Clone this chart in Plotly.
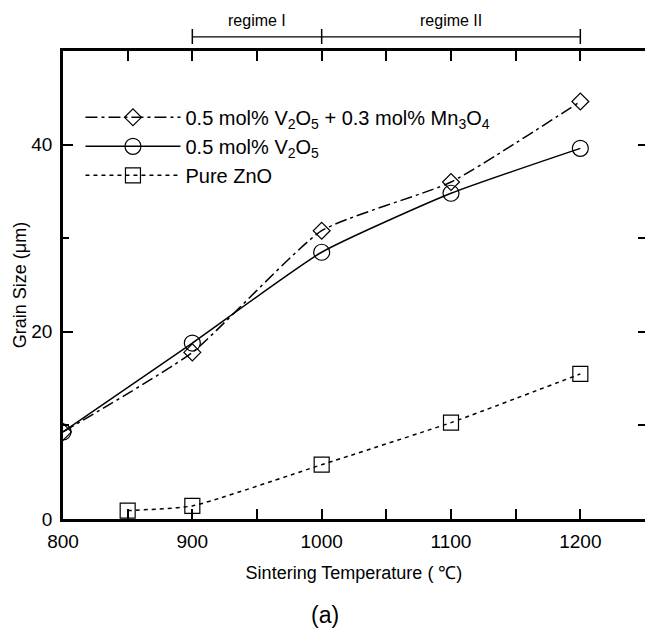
import plotly.graph_objects as go

temp_mn = [800, 900, 1000, 1100, 1200]
size_mn = [9.3, 17.8, 30.8, 36.0, 44.6]
temp_v = [800, 900, 1000, 1100, 1200]
size_v = [9.3, 18.8, 28.5, 34.8, 39.6]
temp_zno = [850, 900, 1000, 1100, 1200]
size_zno = [0.9, 1.4, 5.8, 10.3, 15.5]

name_mn = "0.5 mol% V<sub>2</sub>O<sub>5</sub> + 0.3 mol% Mn<sub>3</sub>O<sub>4</sub>"
name_v = "0.5 mol% V<sub>2</sub>O<sub>5</sub>"
name_zno = "Pure ZnO"

regime_bounds = [900, 1000, 1200]
regime_labels = ["regime I", "regime II"]
regime_label_x = [950, 1100]

FONT = "Liberation Sans, Arial, sans-serif"

fig = go.Figure()
fig.add_trace(go.Scatter(x=temp_mn, y=size_mn, name=name_mn, mode="lines+markers",
                         line=dict(color="black", width=1.5, dash="12px,4px,3px,4px", shape="spline", smoothing=0.5),
                         marker=dict(symbol="diamond-open", size=13, color="black", line=dict(width=1.2))))
fig.add_trace(go.Scatter(x=temp_v, y=size_v, name=name_v, mode="lines+markers",
                         line=dict(color="black", width=1.5, shape="spline", smoothing=0.5),
                         marker=dict(symbol="circle-open", size=16, color="black", line=dict(width=1.2))))
fig.add_trace(go.Scatter(x=temp_zno, y=size_zno, name=name_zno, mode="lines+markers",
                         line=dict(color="black", width=1.5, dash="4px,4px", shape="spline", smoothing=0.5),
                         marker=dict(symbol="square-open", size=15, color="black", line=dict(width=1.2))))

# right-side ticks without a spine
fig.add_trace(go.Scatter(x=[None], y=[None], yaxis="y2", showlegend=False, hoverinfo="skip"))

# regime brackets
fig.add_shape(type="line", xref="x", yref="paper", x0=regime_bounds[0], x1=regime_bounds[-1],
              y0=1.03, y1=1.03, line=dict(color="black", width=1.2))
for b in regime_bounds:
    fig.add_shape(type="line", xref="x", yref="paper", x0=b, x1=b, y0=1.015, y1=1.047,
                  line=dict(color="black", width=1.5))
for lab, lx in zip(regime_labels, regime_label_x):
    fig.add_annotation(x=lx, y=1.066, xref="x", yref="paper", text=lab, showarrow=False,
                       font=dict(size=16, color="black", family=FONT), yanchor="middle")

fig.add_annotation(x=0.45, y=-0.205, xref="paper", yref="paper", text="(a)", showarrow=False,
                   font=dict(size=23, color="black", family=FONT), xanchor="center", yanchor="middle")

fig.update_layout(
    width=645, height=633,
    margin=dict(l=63, r=0, t=51, b=114),
    paper_bgcolor="white", plot_bgcolor="white",
    font=dict(family=FONT, color="black", size=18),
    showlegend=True,
    legend=dict(x=0.03, y=0.9, xanchor="left", yanchor="top", bgcolor="rgba(0,0,0,0)",
                font=dict(size=20, family=FONT), itemwidth=95, tracegroupgap=0),
    xaxis=dict(range=[800, 1250], tickvals=[800, 900, 1000, 1100, 1200],
               ticks="inside", ticklen=10, tickwidth=1.5, tickcolor="black",
               minor=dict(tickvals=[850, 950, 1050, 1150], ticks="inside", ticklen=6, tickwidth=1.5, tickcolor="black"),
               showline=True, linecolor="black", linewidth=2.5, mirror="allticks",
               showgrid=False, zeroline=False,
               tickfont=dict(size=19), ticklabelstandoff=3,
               title=dict(text="Sintering Temperature ( ℃)", font=dict(size=18), standoff=16)),
    yaxis=dict(range=[0, 50], tickvals=[0, 20, 40],
               ticks="inside", ticklen=10, tickwidth=1.5, tickcolor="black",
               minor=dict(tickvals=[10, 30], ticks="inside", ticklen=6, tickwidth=1.5, tickcolor="black"),
               showline=True, linecolor="black", linewidth=2.5, mirror=False,
               showgrid=False, zeroline=False,
               tickfont=dict(size=19), ticklabelstandoff=4,
               title=dict(text="Grain Size (μm)", font=dict(size=18), standoff=1)),
    yaxis2=dict(range=[0, 50], overlaying="y", side="right", tickvals=[10, 20, 30, 40],
                ticks="inside", ticklen=7, tickwidth=2, tickcolor="black",
                showticklabels=False, showline=False, showgrid=False, zeroline=False),
)

fig.write_html("out.html")
